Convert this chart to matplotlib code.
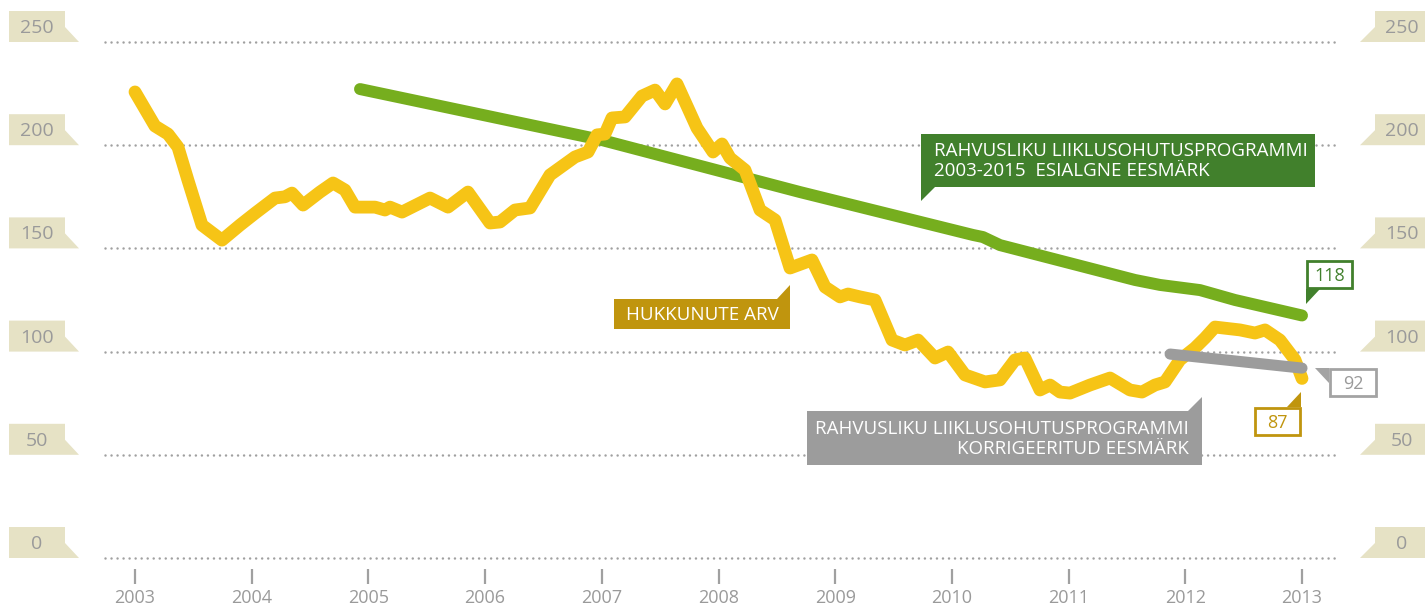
import matplotlib
matplotlib.use("Agg")
import matplotlib.pyplot as plt
from matplotlib.patches import Polygon

# ---------------- data ----------------
yellow_years = [2003.000, 2003.171, 2003.283, 2003.368, 2003.454, 2003.574, 2003.745, 2003.900,
                2004.028, 2004.200, 2004.285, 2004.345, 2004.440, 2004.585, 2004.697, 2004.799,
                2004.885, 2005.057, 2005.142, 2005.185, 2005.288, 2005.528, 2005.682, 2005.853,
                2006.042, 2006.128, 2006.256, 2006.385, 2006.556, 2006.770, 2006.882, 2006.959,
                2007.027, 2007.087, 2007.199, 2007.344, 2007.456, 2007.542, 2007.644, 2007.816,
                2007.953, 2008.030, 2008.099, 2008.227, 2008.356, 2008.484, 2008.613, 2008.801,
                2008.913, 2009.041, 2009.110, 2009.213, 2009.341, 2009.487, 2009.598, 2009.710,
                2009.855, 2009.967, 2010.112, 2010.284, 2010.412, 2010.541, 2010.626, 2010.755,
                2010.841, 2010.926, 2011.012, 2011.183, 2011.355, 2011.526, 2011.629, 2011.740,
                2011.826, 2011.954, 2012.083, 2012.169, 2012.254, 2012.469, 2012.597, 2012.683,
                2012.811, 2012.940, 2013.000]
yellow_values = [225.8, 209.3, 205.4, 199.1, 183.0, 161.3, 154.0, 161.3,
                 167.0, 174.4, 175.0, 176.8, 171.0, 177.3, 181.7, 178.3,
                 170.0, 170.0, 168.6, 170.0, 167.6, 174.4, 170.0, 177.3,
                 162.3, 162.8, 168.6, 169.6, 185.6, 194.3, 196.7, 205.0,
                 205.4, 213.2, 213.7, 223.8, 226.7, 220.0, 229.7, 208.3,
                 196.7, 200.6, 193.8, 188.0, 168.6, 163.8, 140.5, 144.4,
                 131.3, 126.5, 127.9, 126.5, 125.0, 105.6, 103.2, 105.6,
                 96.9, 99.8, 88.7, 85.3, 86.3, 96.0, 96.9, 81.4,
                 83.8, 80.4, 79.9, 83.8, 87.2, 81.4, 80.4, 83.8,
                 85.3, 96.0, 101.8, 106.6, 111.9, 110.5, 109.0, 110.5,
                 105.6, 96.0, 87.0]

green_years = [2004.928, 2007.000, 2008.698, 2010.181, 2010.266, 2010.412,
               2011.569, 2011.783, 2012.126, 2012.426, 2013.000]
green_values = [227.2, 202.5, 177.3, 156.5, 155.5, 151.6,
                134.7, 132.3, 129.8, 125.0, 117.5]

gray_years = [2011.87, 2013.0]
gray_values = [98.8, 92.0]

y_ticks = [0, 50, 100, 150, 200, 250]
x_ticks = list(range(2003, 2014))

label_yellow = "HUKKUNUTE ARV"
label_green = "RAHVUSLIKU LIIKLUSOHUTUSPROGRAMMI\n2003-2015  ESIALGNE EESMÄRK"
label_gray = "RAHVUSLIKU LIIKLUSOHUTUSPROGRAMMI\nKORRIGEERITUD EESMÄRK"
end_green, end_gray, end_yellow = "118", "92", "87"

# ---------------- style ----------------
W, H = 1425, 605
YELLOW = "#F6C416"
GREEN = "#76AE1E"
DKGREEN = "#41802C"
GRAY = "#9C9C9C"
GOLD = "#C0950E"
TAG = "#E6E2C5"
TXT = "#9A9A9A"
FONT = ["Open Sans", "DejaVu Sans"]

plt.rcParams["font.family"] = FONT

fig = plt.figure(figsize=(W / 100, H / 100), dpi=100)
ax = fig.add_axes([0, 0, 1, 1])
px_per_year = 116.7
px_per_unit = 2.064
x0 = 2003 - 135 / px_per_year
x1 = 2003 + (W - 135) / px_per_year
y1 = 250 + 42 / px_per_unit
y0 = 250 - (H - 42) / px_per_unit
ax.set_xlim(x0, x1)
ax.set_ylim(y0, y1)
ax.axis("off")


def P(x, y):
    return (x / W, 1 - y / H)


def poly(pts, color, fill=True, lw=0, ec=None, z=5):
    fig.patches.append(Polygon([P(*p) for p in pts], closed=True, transform=fig.transFigure,
                               facecolor=color if fill else "white", edgecolor=ec if ec else "none",
                               linewidth=lw, zorder=z))


def ftext(x, y, s, **kw):
    fig.text(x / W, 1 - y / H, s, **kw)


# grid lines (dotted)
gx0 = x0 + 105 / px_per_year
gx1 = x0 + 1335 / px_per_year
for v in y_ticks:
    ax.plot([gx0, gx1], [v, v], color="#A0A0A0", lw=1.8, linestyle=(0, (0.01, 2.4)),
            dash_capstyle="round", zorder=1)

# y tags left and right
for v in y_ticks:
    yb = 42 + (250 - v) * px_per_unit  # pixel of gridline
    yt = yb - 31
    poly([(9, yt), (65, yt), (65, yt + 16), (79, yb), (9, yb)], TAG, z=2)
    ftext(37, yt + 17, str(v), ha="center", va="center", color=TXT, fontsize=14)
    poly([(1425, yt), (1375, yt), (1375, yt + 16), (1360, yb), (1425, yb)], TAG, z=2)
    ftext(1402, yt + 17, str(v), ha="center", va="center", color=TXT, fontsize=14)

# x ticks
for yr in x_ticks:
    ax.plot([yr, yr], [-5.5, -12.5], color="#A0A0A0", lw=1.6, solid_capstyle="butt")
    ax.text(yr, -19.3, str(yr), ha="center", va="center", color=TXT, fontsize=13)

# series
ax.plot(green_years, green_values, color=GREEN, lw=8.6, solid_capstyle="round",
        solid_joinstyle="round", zorder=3)
ax.plot(yellow_years, yellow_values, color=YELLOW, lw=9.2, solid_capstyle="round",
        solid_joinstyle="round", zorder=4)
ax.plot(gray_years, gray_values, color=GRAY, lw=8.0, solid_capstyle="round",
        solid_joinstyle="round", zorder=5)

# green callout
poly([(921, 134), (1315, 134), (1315, 187), (935, 187), (921, 201)], DKGREEN, z=6)
ftext(934, 161, label_green, ha="left", va="center", color="white", fontsize=13.5,
      linespacing=1.15, zorder=7)

# yellow callout
poly([(614, 299), (777, 299), (790, 285), (790, 329), (614, 329)], GOLD, z=6)
ftext(702, 315, label_yellow, ha="center", va="center", color="white", fontsize=13.5, zorder=7)

# gray callout
poly([(807, 411), (1188, 411), (1202, 397), (1202, 465), (807, 465)], GRAY, z=6)
ftext(1189, 439, label_gray, ha="right", va="center", color="white", fontsize=13.5,
      linespacing=1.15, multialignment="right", zorder=7)

# end value boxes
poly([(1307, 261), (1352, 261), (1352, 288), (1307, 288)], "white", ec=DKGREEN, lw=2, z=6)
poly([(1306, 289), (1306, 304), (1320, 289)], DKGREEN, z=6)
ftext(1330, 276, end_green, ha="center", va="center", color=DKGREEN, fontsize=13, zorder=7)

poly([(1330, 369), (1376, 369), (1376, 396), (1330, 396)], "white", ec="#A3A3A3", lw=2, z=6)
poly([(1315, 368), (1329, 368), (1329, 383)], "#A3A3A3", z=6)
ftext(1353, 384, end_gray, ha="center", va="center", color=TXT, fontsize=13, zorder=7)

poly([(1255, 408), (1300, 408), (1300, 435), (1255, 435)], "white", ec=GOLD, lw=2, z=6)
poly([(1287, 407), (1301, 392), (1301, 407)], GOLD, z=6)
ftext(1277, 423, end_yellow, ha="center", va="center", color=GOLD, fontsize=13, zorder=7)

fig.savefig("out.png", dpi=100, facecolor="white")
